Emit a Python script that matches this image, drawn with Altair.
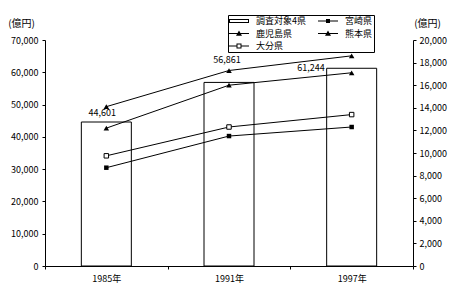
import altair as alt
import pandas as pd

years = ["1985年", "1991年", "1997年"]
total_4 = [44601, 56861, 61244]
miyazaki = [8700, 11500, 12300]
kagoshima = [14100, 17300, 18600]
kumamoto = [12200, 16000, 17100]
oita = [9750, 12300, 13400]
series_names = ["調査対象4県", "宮崎県", "鹿児島県", "熊本県", "大分県"]
left_ticks = [0, 10000, 20000, 30000, 40000, 50000, 60000, 70000]
right_ticks = [0, 2000, 4000, 6000, 8000, 10000, 12000, 14000, 16000, 18000, 20000]

FONT = "Noto Sans CJK JP"

bar_df = pd.DataFrame({"year": years, "value": total_4})
line_rows = []
for name, vals in [("宮崎県", miyazaki), ("鹿児島県", kagoshima), ("熊本県", kumamoto), ("大分県", oita)]:
    for y, v in zip(years, vals):
        line_rows.append({"year": y, "series": name, "value": v})
line_df = pd.DataFrame(line_rows)

# legend entries arranged column-first so that rows read like the reference
legend_order = ["調査対象4県", "鹿児島県", "大分県", "宮崎県", "熊本県"]
legend_df = pd.DataFrame({"series": legend_order})

x_enc = alt.X("year:N", sort=years,
              scale=alt.Scale(paddingInner=0, paddingOuter=0),
              axis=alt.Axis(title=None, labelAngle=0, tickBand="extent", tickSize=3,
                            labelPadding=5, labelFontSize=9))

y_left = alt.Y("value:Q", scale=alt.Scale(domain=[0, 70000], nice=False),
               axis=alt.Axis(orient="left", values=left_ticks, format=",d", tickSize=3,
                             labelPadding=4, title="(億円)", titleAngle=0,
                             titleX=-24, titleY=-17, titleAlign="center",
                             titleBaseline="middle"))
y_right = alt.Y("value:Q", scale=alt.Scale(domain=[0, 20000], nice=False),
                axis=alt.Axis(orient="right", values=right_ticks, format=",d", tickSize=3,
                              labelPadding=3, title="(億円)", titleAngle=0,
                              titleX=14, titleY=-17, titleAlign="center",
                              titleBaseline="middle"))

bars = alt.Chart(bar_df).mark_bar(size=50, fill="white", stroke="black", strokeWidth=1).encode(
    x=x_enc, y=y_left)

lab_base = alt.Chart(bar_df)
t1 = lab_base.transform_filter(alt.datum.year == "1985年").mark_text(
    dx=-4, dy=-4, baseline="bottom", fontSize=9, font=FONT, color="black").encode(
    x=x_enc, y=y_left, text=alt.Text("value:Q", format=",d"))
t2 = lab_base.transform_filter(alt.datum.year == "1991年").mark_text(
    dx=-2, dy=-17, baseline="bottom", fontSize=9, font=FONT, color="black").encode(
    x=x_enc, y=y_left, text=alt.Text("value:Q", format=",d"))
t3 = lab_base.transform_filter(alt.datum.year == "1997年").mark_text(
    dx=-27, dy=0, align="right", baseline="middle", fontSize=9, font=FONT, color="black").encode(
    x=x_enc, y=y_left, text=alt.Text("value:Q", format=",d"))

left = alt.layer(bars, t1, t2, t3)

lines = alt.Chart(line_df).mark_line(color="black", strokeWidth=1).encode(
    x=x_enc, y=y_right, detail="series:N")
p_sq = alt.Chart(line_df).transform_filter(alt.datum.series == "宮崎県").mark_point(
    shape="square", filled=True, size=20, color="black", opacity=1).encode(x=x_enc, y=y_right)
p_tri = alt.Chart(line_df).transform_filter(
    (alt.datum.series == "鹿児島県") | (alt.datum.series == "熊本県")).mark_point(
    shape="triangle-up", filled=True, size=30, color="black", opacity=1).encode(x=x_enc, y=y_right)
p_open = alt.Chart(line_df).transform_filter(alt.datum.series == "大分県").mark_point(
    shape="square", filled=False, size=20, fill="white", stroke="black", strokeWidth=1,
    opacity=1, fillOpacity=1).encode(x=x_enc, y=y_right)

right = alt.layer(lines, p_sq, p_tri, p_open)

# legend swatches drawn as filled outlines (size 100 -> 5px per unit, 0.2 unit = 1px)
RECT = ("M-2,-0.4L2,-0.4L2,0.4L-2,0.4Z"
        "M-1.8,-0.2L-1.8,0.2L1.8,0.2L1.8,-0.2Z")
LINE = "M-2,-0.1L2,-0.1L2,0.1L-2,0.1Z"
LINE_SQ = LINE + "M-0.4,-0.4L0.4,-0.4L0.4,0.4L-0.4,0.4Z"
LINE_TRI = LINE + "M-0.6,0.45L0,-0.6L0.6,0.45Z"
LINE_OPEN = ("M-2,-0.1L-0.5,-0.1L-0.5,0.1L-2,0.1Z"
             "M0.5,-0.1L2,-0.1L2,0.1L0.5,0.1Z"
             "M-0.5,-0.5L0.5,-0.5L0.5,0.5L-0.5,0.5Z"
             "M-0.3,-0.3L-0.3,0.3L0.3,0.3L0.3,-0.3Z")
path_of = {"調査対象4県": RECT, "宮崎県": LINE_SQ, "鹿児島県": LINE_TRI,
           "熊本県": LINE_TRI, "大分県": LINE_OPEN}
sym_paths = [path_of[s] for s in legend_order]

leg = alt.Chart(legend_df).mark_point(filled=True, color="black", opacity=0).encode(
    shape=alt.Shape(
        "series:N", scale=alt.Scale(domain=legend_order, range=sym_paths),
        legend=alt.Legend(
            title=None, orient="none", legendX=183, legendY=-25, columns=2,
            columnPadding=12, rowPadding=2.5, padding=1, strokeColor="black",
            symbolSize=100, symbolOffset=5, labelOffset=12, labelFontSize=9,
            labelFont=FONT, labelColor="black", symbolFillColor="black",
            symbolStrokeWidth=0, symbolOpacity=1,
            labelExpr="datum.label == '熊本県' ? datum.label + '\u3000\u3000\u3000\u2002' : datum.label",
        )),
)

chart = alt.layer(left, right, leg).resolve_scale(y="independent").properties(
    width=368, height=226,
    padding={"left": 45, "top": 40, "right": 43, "bottom": 19},
    autosize=alt.AutoSizeParams(type="none"),
    background="white",
).configure_view(stroke=None).configure_axis(
    labelFont=FONT, titleFont=FONT, labelColor="black", titleColor="black",
    labelFontSize=9, titleFontSize=10, titleFontWeight="normal",
    domainColor="black", tickColor="black", grid=False,
)

chart.save("out.html", embed_options={"renderer": "svg", "actions": False})
